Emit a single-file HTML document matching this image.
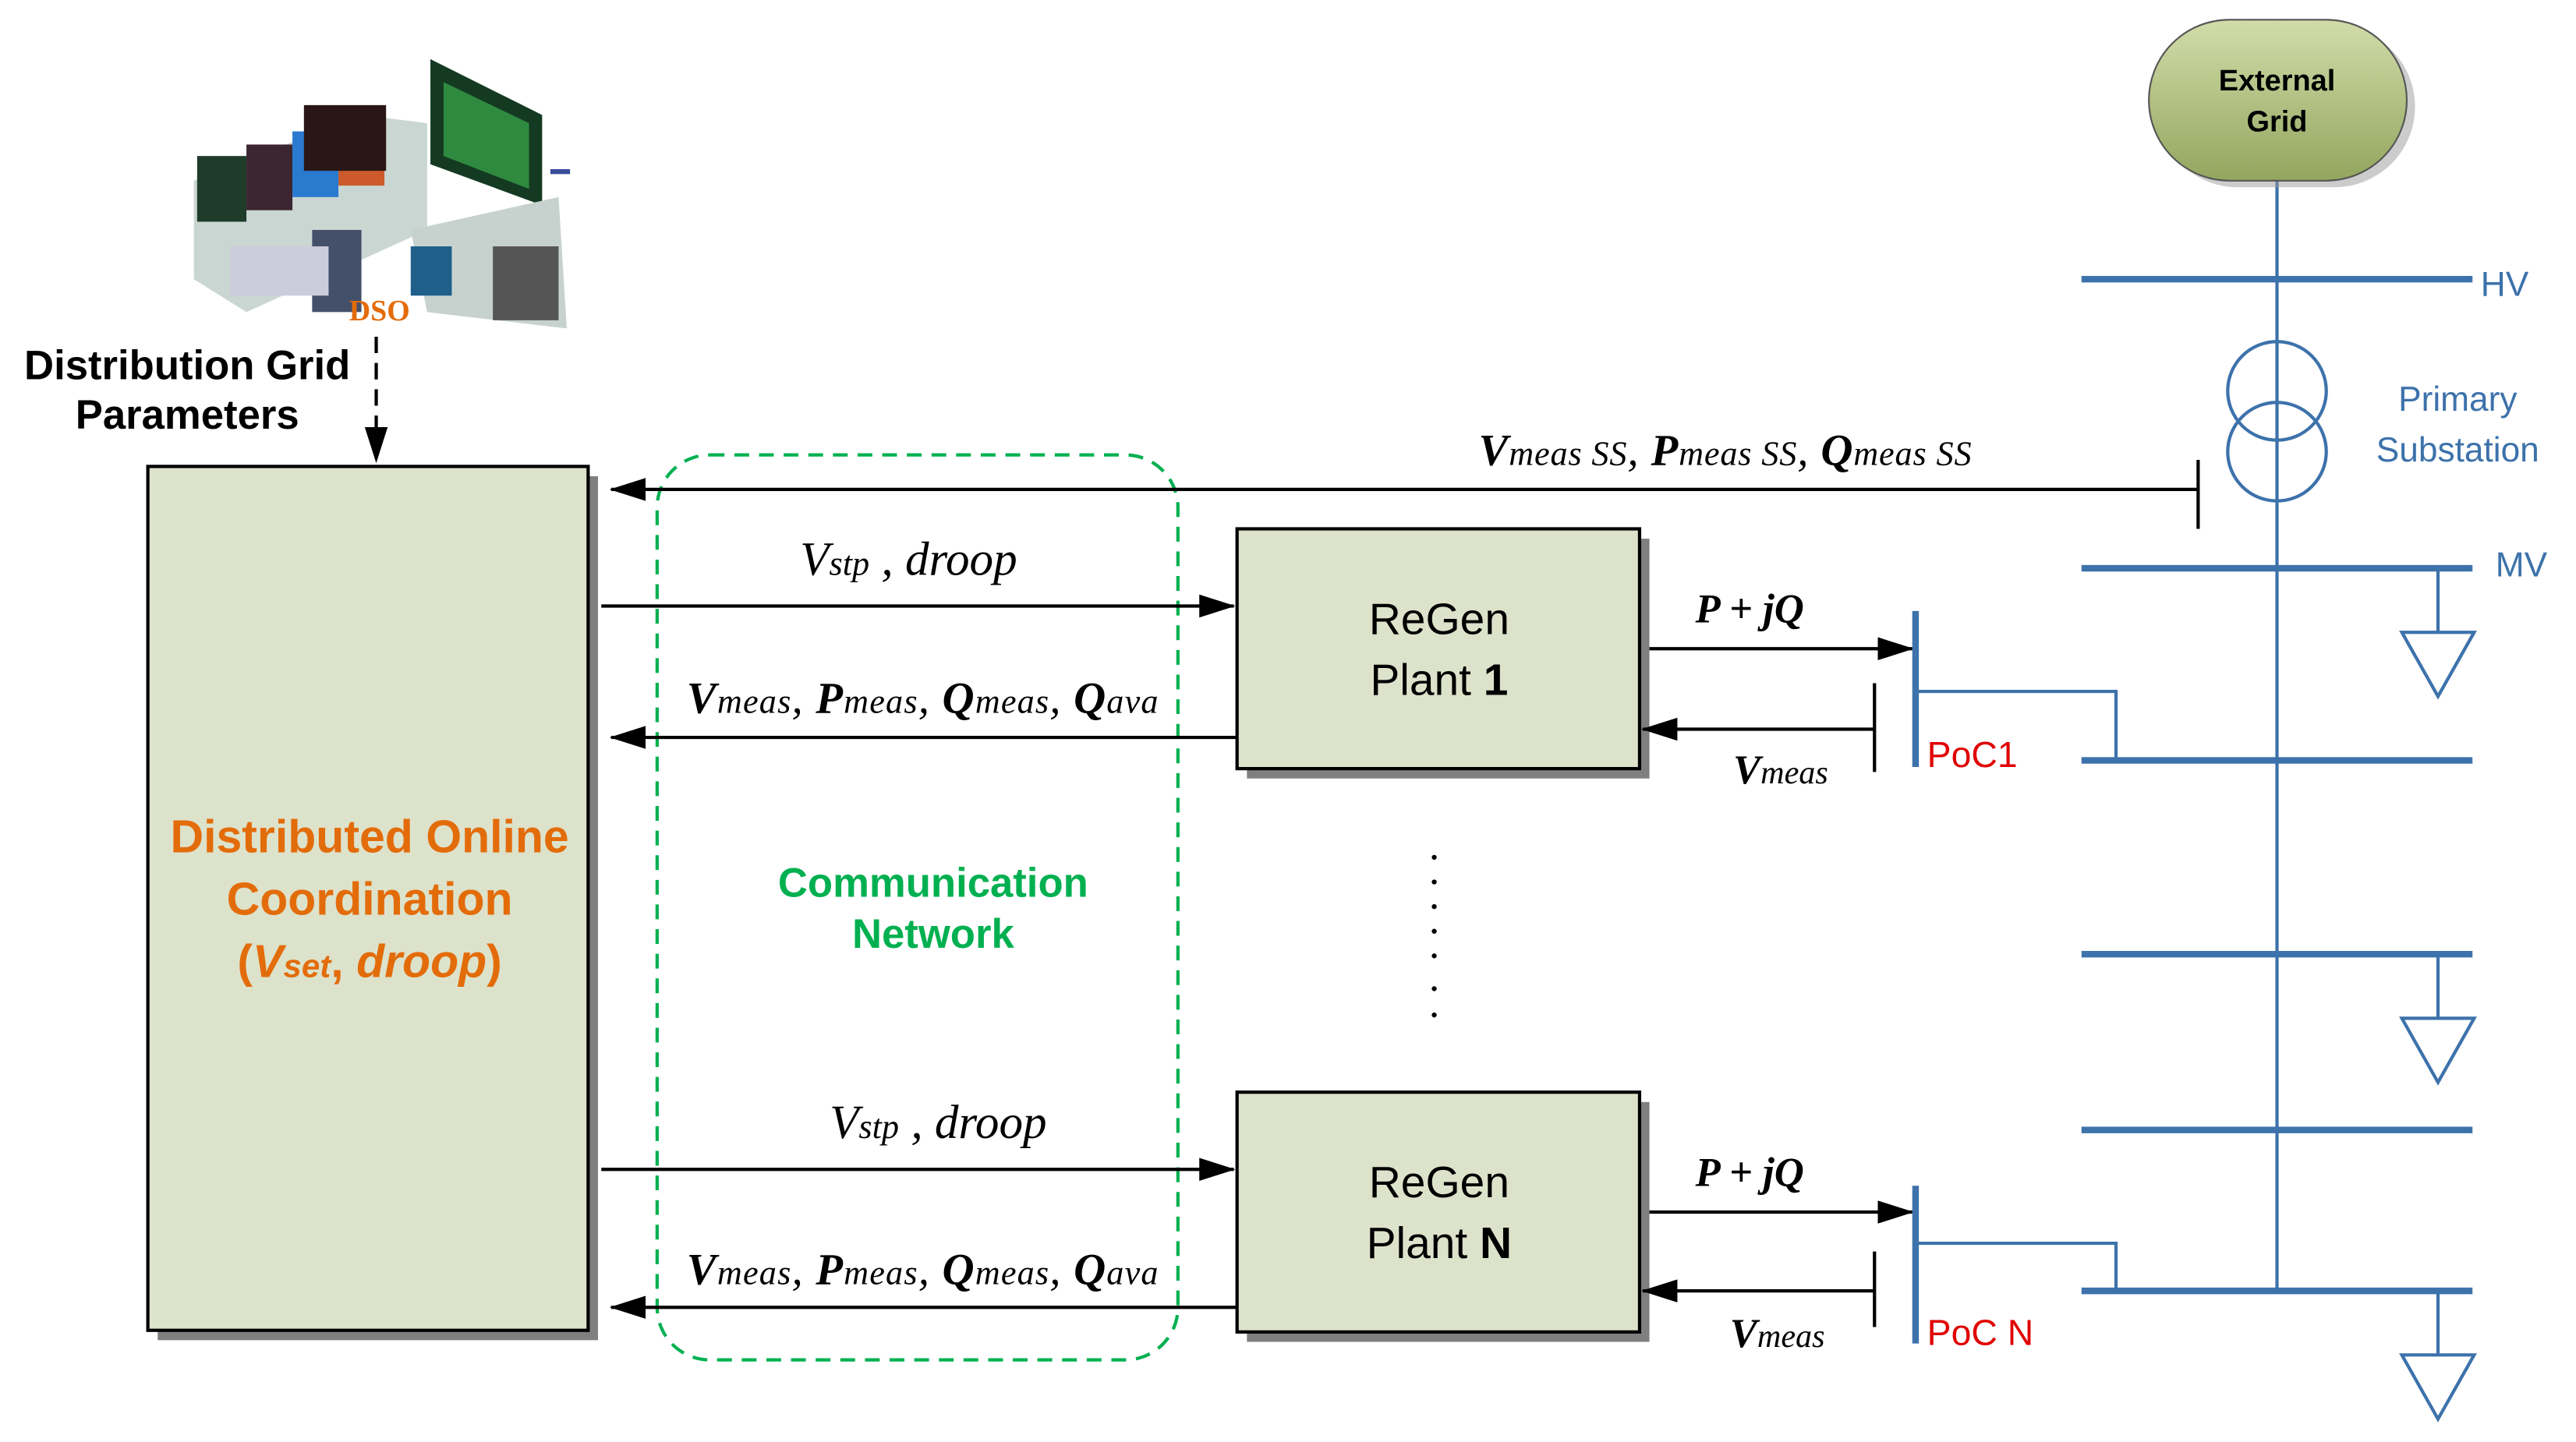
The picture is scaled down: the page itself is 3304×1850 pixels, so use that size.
<!DOCTYPE html>
<html><head><meta charset="utf-8"><style>
html,body{margin:0;padding:0;background:#fff;}
svg{display:block;}
.s{font-family:"Liberation Sans",sans-serif;}
.r{font-family:"Liberation Serif",serif;font-style:italic;}
</style></head><body>
<svg width="3304" height="1850" viewBox="0 0 1568 878" preserveAspectRatio="none" xmlns="http://www.w3.org/2000/svg">
<defs>
<marker id="a2" markerWidth="22" markerHeight="14" refX="21" refY="7" orient="auto" markerUnits="userSpaceOnUse"><path d="M0,0 L22,7 L0,14 z" fill="#000"/></marker>
<linearGradient id="g" x1="0" y1="0" x2="0" y2="1"><stop offset="0" stop-color="#d2dcaa"/><stop offset="1" stop-color="#93a65e"/></linearGradient>
</defs>
<g>
<polygon points="118,110 220,70 260,75 260,140 150,190 118,170" fill="#c9d6d2"/>
<rect x="120" y="95" width="30" height="40" fill="#1f3b2a"/>
<rect x="150" y="88" width="28" height="40" fill="#3b2530"/>
<rect x="178" y="80" width="28" height="40" fill="#2a7ad0"/>
<rect x="206" y="75" width="28" height="38" fill="#cc5a2a"/>
<rect x="185" y="64" width="50" height="40" fill="#2a1616"/>
<polygon points="262,36 330,70 330,125 262,100" fill="#143a22"/>
<polygon points="270,50 322,75 322,115 270,95" fill="#2f8a3f"/>
<polygon points="250,140 340,120 345,200 260,190" fill="#c7d2cf"/>
<rect x="300" y="150" width="40" height="45" fill="#555"/>
<rect x="190" y="140" width="30" height="50" fill="#44506a"/>
<rect x="250" y="150" width="25" height="30" fill="#1f5f8a"/>
<rect x="140" y="150" width="60" height="30" fill="#ccd" />
<rect x="335" y="103" width="12" height="3" fill="#3a4c9a"/>
</g>
<text x="231" y="195" text-anchor="middle" font-family="Liberation Serif,serif" font-weight="bold" font-size="18" fill="#e36c0a">DSO</text>
<text x="114" y="231" text-anchor="middle" class="s" font-weight="bold" font-size="25">Distribution Grid</text>
<text x="114" y="261" text-anchor="middle" class="s" font-weight="bold" font-size="25">Parameters</text>
<line x1="229" y1="205" x2="229" y2="281" stroke="#000" stroke-width="2" stroke-dasharray="10,6" marker-end="url(#a2)"/>

<rect x="96" y="290" width="268" height="526" fill="#7f7f7f"/>
<rect x="90" y="284" width="268" height="526" fill="#dde2cb" stroke="#000" stroke-width="2"/>
<g class="s" font-weight="bold" font-size="28" fill="#e36c0a" text-anchor="middle">
<text x="225" y="519">Distributed Online</text>
<text x="225" y="557">Coordination</text>
<text x="225" y="595">(<tspan font-style="italic">V</tspan><tspan font-style="italic" font-size="20">set</tspan>, <tspan font-style="italic">droop</tspan>)</text>
</g>

<rect x="400" y="277" width="317" height="551" rx="32" fill="none" stroke="#00b050" stroke-width="2" stroke-dasharray="9,6"/>
<text x="568" y="546" text-anchor="middle" class="s" font-weight="bold" font-size="25" fill="#00b050">Communication</text>
<text x="568" y="577" text-anchor="middle" class="s" font-weight="bold" font-size="25" fill="#00b050">Network</text>

<rect x="759" y="328" width="245" height="146" fill="#7f7f7f"/>
<rect x="753" y="322" width="245" height="146" fill="#dde2cb" stroke="#000" stroke-width="2"/>
<text x="876" y="386" text-anchor="middle" class="s" font-size="27">ReGen</text>
<text x="876" y="423" text-anchor="middle" class="s" font-size="27">Plant <tspan font-weight="bold">1</tspan></text>
<rect x="759" y="671" width="245" height="146" fill="#7f7f7f"/>
<rect x="753" y="665" width="245" height="146" fill="#dde2cb" stroke="#000" stroke-width="2"/>
<text x="876" y="729" text-anchor="middle" class="s" font-size="27">ReGen</text>
<text x="876" y="766" text-anchor="middle" class="s" font-size="27">Plant <tspan font-weight="bold">N</tspan></text>

<g stroke="#000" stroke-width="2" fill="none">
<line x1="1338" y1="298" x2="372" y2="298" marker-end="url(#a2)"/>
<line x1="1338" y1="280" x2="1338" y2="322"/>
<line x1="366" y1="369" x2="751" y2="369" marker-end="url(#a2)"/>
<line x1="753" y1="449" x2="372" y2="449" marker-end="url(#a2)"/>
<line x1="366" y1="712" x2="751" y2="712" marker-end="url(#a2)"/>
<line x1="753" y1="796" x2="372" y2="796" marker-end="url(#a2)"/>
<line x1="1004" y1="395" x2="1164" y2="395" marker-end="url(#a2)"/>
<line x1="1141" y1="444" x2="1000" y2="444" marker-end="url(#a2)"/>
<line x1="1141" y1="416" x2="1141" y2="470"/>
<line x1="1004" y1="738" x2="1164" y2="738" marker-end="url(#a2)"/>
<line x1="1141" y1="786" x2="1000" y2="786" marker-end="url(#a2)"/>
<line x1="1141" y1="762" x2="1141" y2="808"/>
</g>
<g class="r" font-size="27">
<text x="900" y="283" textLength="300" lengthAdjust="spacing"><tspan font-weight="bold">V</tspan><tspan font-size="21">meas SS</tspan>, <tspan font-weight="bold">P</tspan><tspan font-size="21">meas SS</tspan>, <tspan font-weight="bold">Q</tspan><tspan font-size="21">meas SS</tspan></text>
<text x="487" y="350" font-size="29">V<tspan font-size="21">stp</tspan> , droop</text>
<text x="505" y="693" font-size="29">V<tspan font-size="21">stp</tspan> , droop</text>
<text x="418" y="434" textLength="287" lengthAdjust="spacing"><tspan font-weight="bold">V</tspan><tspan font-size="21">meas</tspan>, <tspan font-weight="bold">P</tspan><tspan font-size="21">meas</tspan>, <tspan font-weight="bold">Q</tspan><tspan font-size="21">meas</tspan>, <tspan font-weight="bold">Q</tspan><tspan font-size="21">ava</tspan></text>
<text x="418" y="782" textLength="287" lengthAdjust="spacing"><tspan font-weight="bold">V</tspan><tspan font-size="21">meas</tspan>, <tspan font-weight="bold">P</tspan><tspan font-size="21">meas</tspan>, <tspan font-weight="bold">Q</tspan><tspan font-size="21">meas</tspan>, <tspan font-weight="bold">Q</tspan><tspan font-size="21">ava</tspan></text>
<text x="1032" y="379" font-weight="bold" font-size="25">P + jQ</text>
<text x="1032" y="722" font-weight="bold" font-size="25">P + jQ</text>
<text x="1055" y="477" font-size="25"><tspan font-weight="bold">V</tspan><tspan font-size="20">meas</tspan></text>
<text x="1053" y="820" font-size="25"><tspan font-weight="bold">V</tspan><tspan font-size="20">meas</tspan></text>
</g>
<g fill="#000">
<circle cx="873" cy="522" r="1.5"/><circle cx="873" cy="537" r="1.5"/><circle cx="873" cy="552" r="1.5"/><circle cx="873" cy="567" r="1.5"/><circle cx="873" cy="582" r="1.5"/><circle cx="873" cy="602" r="1.5"/><circle cx="873" cy="618" r="1.5"/>
</g>

<g stroke="#3d72ab" fill="none">
<line x1="1386" y1="110" x2="1386" y2="786" stroke-width="2"/>
<line x1="1267" y1="170" x2="1505" y2="170" stroke-width="4"/>
<line x1="1267" y1="346" x2="1505" y2="346" stroke-width="4"/>
<line x1="1267" y1="463" x2="1505" y2="463" stroke-width="4"/>
<line x1="1267" y1="581" x2="1505" y2="581" stroke-width="4"/>
<line x1="1267" y1="688" x2="1505" y2="688" stroke-width="4"/>
<line x1="1267" y1="786" x2="1505" y2="786" stroke-width="4"/>
<circle cx="1386" cy="238" r="30" stroke-width="2"/>
<circle cx="1386" cy="275" r="30" stroke-width="2"/>
<line x1="1484" y1="346" x2="1484" y2="385" stroke-width="2"/>
<polygon points="1462,385 1506,385 1484,424" stroke-width="2"/>
<line x1="1484" y1="581" x2="1484" y2="620" stroke-width="2"/>
<polygon points="1462,620 1506,620 1484,659" stroke-width="2"/>
<line x1="1484" y1="786" x2="1484" y2="825" stroke-width="2"/>
<polygon points="1462,825 1506,825 1484,864" stroke-width="2"/>
<line x1="1166" y1="372" x2="1166" y2="467" stroke-width="4"/>
<polyline points="1166,421 1288,421 1288,463" stroke-width="2"/>
<line x1="1166" y1="722" x2="1166" y2="818" stroke-width="4"/>
<polyline points="1166,757 1288,757 1288,786" stroke-width="2"/>
</g>
<rect x="1313" y="16" width="157" height="98" rx="49" fill="#999" opacity="0.5"/>
<rect x="1308" y="12" width="157" height="98" rx="49" fill="url(#g)" stroke="#555" stroke-width="1"/>
<text x="1386" y="55" text-anchor="middle" class="s" font-weight="bold" font-size="18">External</text>
<text x="1386" y="80" text-anchor="middle" class="s" font-weight="bold" font-size="18">Grid</text>
<g class="s" fill="#3d72ab" font-size="21">
<text x="1510" y="180">HV</text>
<text x="1519" y="351">MV</text>
<text x="1496" y="250" text-anchor="middle">Primary</text>
<text x="1496" y="281" text-anchor="middle">Substation</text>
</g>
<text x="1173" y="467" class="s" font-size="22" fill="#e00000">PoC1</text>
<text x="1173" y="819" class="s" font-size="22" fill="#e00000">PoC N</text>
</svg>
</body></html>
